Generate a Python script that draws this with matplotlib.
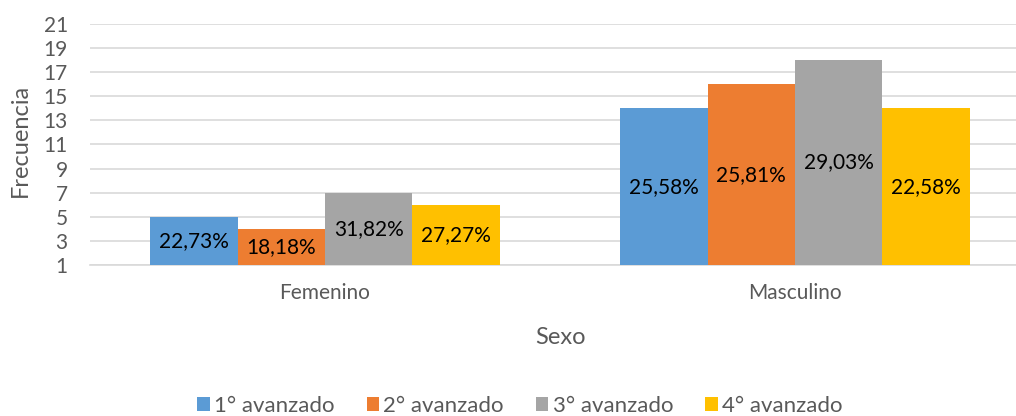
import numpy as np
import matplotlib.pyplot as plt

categories = ["Femenino", "Masculino"]
series = ["1° avanzado", "2° avanzado", "3° avanzado", "4° avanzado"]
values = [
    [5, 14],
    [4, 16],
    [7, 18],
    [6, 14],
]
labels = [
    ["22,73%", "25,58%"],
    ["18,18%", "25,81%"],
    ["31,82%", "29,03%"],
    ["27,27%", "22,58%"],
]
colors = ["#5B9BD5", "#ED7D31", "#A5A5A5", "#FFC000"]
yticks = list(range(1, 22, 2))

plt.rcParams["font.family"] = ["Lato", "DejaVu Sans"]
grey = "#595959"

W, H = 1016, 416
fig = plt.figure(figsize=(W / 100, H / 100), dpi=100)
# axes in pixel coords: left 90, right 1016, top 24, bottom 265
ax = fig.add_axes([90 / W, 1 - 265 / H, (1016 - 90) / W, (265 - 24) / H])

x = np.arange(len(categories))
bw = 0.186
base = 1
for i, (s, vals) in enumerate(zip(series, values)):
    pos = x + (i - 1.5) * bw
    heights = [v - base for v in vals]
    ax.bar(pos, heights, bw, bottom=base, color=colors[i], label=s, zorder=3)
    for p, v, lab in zip(pos, vals, labels[i]):
        ax.text(p, (v + base) / 2, lab, ha="center", va="center",
                fontsize=15, color="black", zorder=4)

ax.set_xlim(-0.5, (1016 - 325) / 470)
ax.set_ylim(1, 21)
ax.set_yticks(yticks)
ax.set_xticks(x)
ax.set_xticklabels(categories)
ax.yaxis.grid(True, color="#D9D9D9", linewidth=1.2, zorder=0)
for sp in ["top", "right", "left"]:
    ax.spines[sp].set_visible(False)
ax.spines["bottom"].set_color("#D9D9D9")
ax.spines["bottom"].set_linewidth(1.2)
ax.tick_params(axis="both", length=0, colors=grey, labelsize=15)
ax.tick_params(axis="y", pad=16)
ax.tick_params(axis="x", pad=13)

fig.text(20 / W, 1 - 140 / H, "Frecuencia", rotation=90, ha="center",
         va="center", fontsize=17, color=grey)
fig.text(560 / W, 1 - 338 / H, "Sexo", ha="center", va="center",
         fontsize=17, color=grey)

leg = fig.legend(loc="center", bbox_to_anchor=(520 / W, 1 - 406 / H), ncol=4,
                 frameon=False, fontsize=16, handlelength=0.55,
                 handleheight=0.55, handletextpad=0.2, columnspacing=1.45)
for t in leg.get_texts():
    t.set_color(grey)

fig.savefig("out.png", dpi=100)
